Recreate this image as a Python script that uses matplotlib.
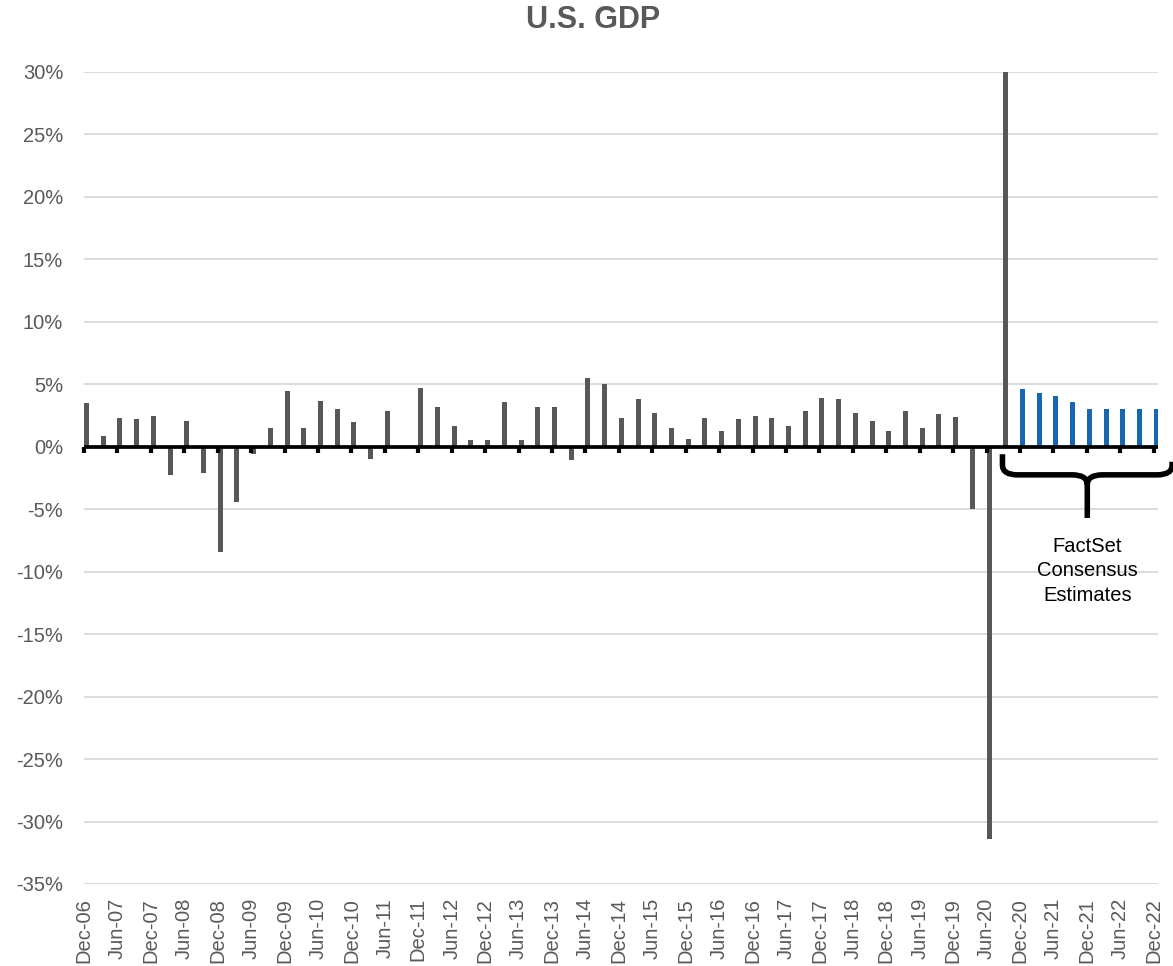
import numpy as np
import matplotlib.pyplot as plt
from matplotlib.path import Path
from matplotlib.patches import PathPatch

plt.rcParams['font.family'] = ['Liberation Sans', 'DejaVu Sans']

# quarterly real GDP growth (q/q annualized, %)
quarters = [f'{m}-{y:02d}' for y in range(6, 23) for m in ('Mar', 'Jun', 'Sep', 'Dec')][3:]
actual = [3.5, 0.9, 2.3, 2.2, 2.5, -2.3, 2.1, -2.1, -8.4, -4.4, -0.6, 1.5,
          4.5, 1.5, 3.7, 3.0, 2.0, -1.0, 2.9, 0.0, 4.7, 3.2, 1.7, 0.5,
          0.5, 3.6, 0.5, 3.2, 3.2, -1.1, 5.5, 5.0, 2.3, 3.8, 2.7, 1.5,
          0.6, 2.3, 1.3, 2.2, 2.5, 2.3, 1.7, 2.9, 3.9, 3.8, 2.7, 2.1,
          1.3, 2.9, 1.5, 2.6, 2.4, -5.0, -31.4, 33.4]
estimates = [4.6, 4.3, 4.1, 3.6, 3.0, 3.0, 3.0, 3.0, 3.0]

gray = '#575757'
blue = '#1866b0'
text_gray = '#595959'

n_act = len(actual)
x_act = np.arange(n_act)
x_est = np.arange(n_act, n_act + len(estimates))

fig = plt.figure(figsize=(11.73, 9.66), dpi=100)
ax = fig.add_axes([0.0716, 0.0849, 0.9156, 0.8406])

w = 0.3
ax.bar(x_act + w / 2, actual, width=w, color=gray, zorder=2)
ax.bar(x_est + w / 2, estimates, width=w, color=blue, zorder=2)

ax.set_ylim(-35, 30)
ax.set_xlim(0, len(quarters) - 1 + w * 0.85)
ax.set_yticks(np.arange(-35, 31, 5))
ax.set_yticklabels([f'{v}%' for v in range(-35, 31, 5)])
ax.yaxis.grid(True, color='#d9d9d9', lw=1.3)
ax.set_axisbelow(True)
for s in ax.spines.values():
    s.set_visible(False)

ticks = np.arange(0, len(quarters), 2)
ax.set_xticks(ticks)
ax.set_xticklabels([quarters[i] for i in ticks], rotation=90)
ax.tick_params(axis='x', length=0, pad=10, labelsize=14.5, labelcolor=text_gray)
ax.tick_params(axis='y', length=0, pad=15, labelsize=14.5, labelcolor=text_gray)

# zero axis line with tick marks, drawn above the bars
# (placed above mid-height, so matplotlib treats it as a 'top' axis)
zero = ax.secondary_xaxis(35 / 65)
zero.set_zorder(3)
zero.set_xticks(ticks)
zero.set_xticklabels([])
zero.tick_params(direction='in', length=4, width=3, color='black')
for side in ('top', 'bottom'):
    zero.spines[side].set_linewidth(2.7)
    zero.spines[side].set_color('black')
    zero.spines[side].set_capstyle('butt')

# brace over the consensus estimates
x0 = x_est[0] - 1.05
x1 = x_est[-1] + 1.1
xm = (x0 + x1) / 2
yt, yh, yb = -0.6, -2.25, -5.7
rx, ry = 0.9, 0.8
verts = [(x0, yt), (x0, yh + ry), (x0, yh), (x0 + rx, yh),
         (xm - rx, yh), (xm, yh), (xm, yh - ry), (xm, yb),
         (xm, yh - ry), (xm, yh), (xm + rx, yh),
         (x1 - rx, yh), (x1, yh), (x1, yh + ry), (x1, yt - 0.6)]
codes = [Path.MOVETO, Path.LINETO, Path.CURVE3, Path.CURVE3,
         Path.LINETO, Path.CURVE3, Path.CURVE3, Path.LINETO,
         Path.MOVETO, Path.CURVE3, Path.CURVE3,
         Path.LINETO, Path.CURVE3, Path.CURVE3, Path.LINETO]
ax.add_patch(PathPatch(Path(verts, codes), fill=False, lw=4, color='black',
                       capstyle='butt', clip_on=False, zorder=3))
ax.text(xm, -7.2, 'FactSet\nConsensus\nEstimates', ha='center', va='top',
        fontsize=14.5, color='black', linespacing=1.38)

fig.text(0.5055, 1 - 20 / 966, 'U.S. GDP', ha='center', va='center',
         fontsize=22, fontweight='bold', color=text_gray)

fig.savefig('out.png', dpi=100)
